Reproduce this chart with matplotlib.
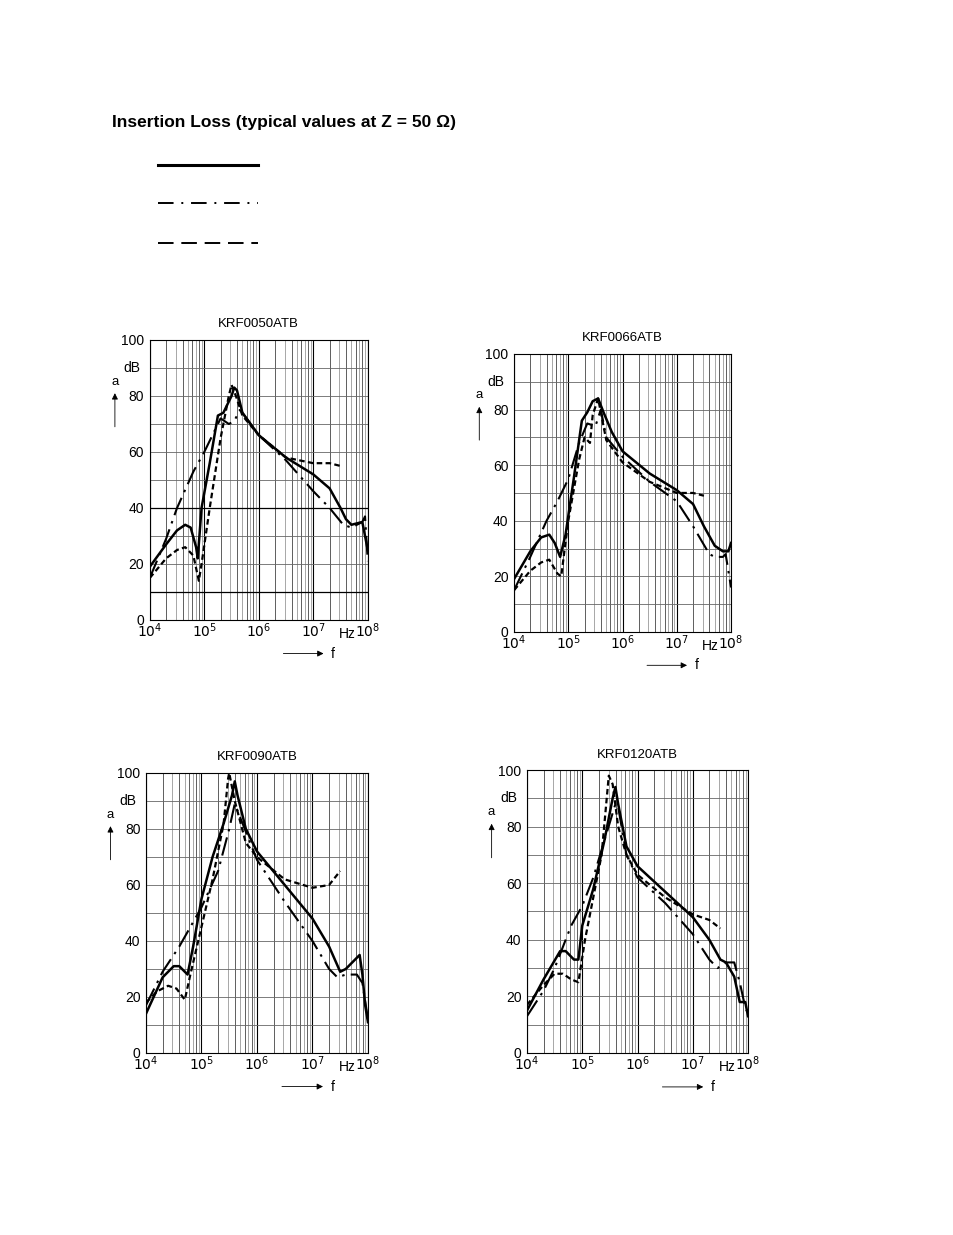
import numpy as np
import matplotlib.pyplot as plt
from matplotlib.lines import Line2D

plt.rcParams['font.family'] = 'Liberation Sans'

# frequencies given as log10(f / Hz), attenuation in dB
titles = ['KRF0050ATB', 'KRF0066ATB', 'KRF0090ATB', 'KRF0120ATB']

solid_x = [
    [4, 4.3, 4.5, 4.65, 4.75, 4.85, 4.88, 4.95, 5.1, 5.25, 5.35, 5.5, 5.55, 5.6, 5.7, 6, 6.5, 7, 7.3, 7.5, 7.6, 7.7, 7.9, 8],
    [4, 4.3, 4.5, 4.65, 4.75, 4.85, 4.95, 5.1, 5.25, 5.35, 5.45, 5.55, 5.65, 5.8, 6, 6.5, 7, 7.3, 7.5, 7.7, 7.85, 7.95, 8],
    [4, 4.3, 4.5, 4.6, 4.7, 4.75, 4.85, 5, 5.2, 5.4, 5.55, 5.6, 5.65, 5.8, 6, 6.5, 7, 7.3, 7.5, 7.6, 7.8, 7.85, 7.9, 7.95, 8],
    [4, 4.3, 4.6, 4.7, 4.85, 4.93, 5.0, 5.2, 5.4, 5.55, 5.6, 5.65, 5.8, 6, 6.5, 7, 7.3, 7.5, 7.6, 7.75, 7.85, 7.95, 8],
]
solid_y = [
    [19, 27, 32, 34, 33, 26, 22, 40, 56, 73, 74, 80, 83, 82, 74, 66, 58, 52, 47, 40, 36, 34, 35, 25],
    [19, 29, 34, 35, 32, 27, 35, 55, 76, 79, 83, 84, 79, 72, 65, 57, 51, 46, 38, 31, 29, 29, 32],
    [14, 27, 31, 31, 29, 28, 38, 55, 70, 82, 92, 97, 92, 80, 72, 60, 48, 38, 29, 30, 34, 35, 28, 17, 11],
    [15, 26, 36, 36, 33, 33, 45, 58, 75, 90, 94, 88, 73, 66, 57, 48, 40, 33, 32, 27, 18, 18, 13],
]

dashdot_x = [
    [4, 4.3, 4.5, 4.8, 5.0, 5.3, 5.45, 5.55, 5.65, 5.7, 6, 6.5, 7, 7.3, 7.55, 7.7, 7.9, 7.95, 8],
    [4, 4.3, 4.6, 4.8, 5, 5.2, 5.35, 5.5, 5.6, 5.7, 6, 6.5, 7, 7.3, 7.6, 7.7, 7.85, 7.9, 8],
    [4, 4.3, 4.6, 4.8, 5, 5.3, 5.5, 5.6, 5.7, 6, 6.5, 7, 7.3, 7.45, 7.6, 7.8, 7.9, 8],
    [4, 4.3, 4.5, 4.8, 5.0, 5.2, 5.4, 5.6, 5.65, 5.8, 6, 6.5, 7, 7.3, 7.45, 7.6, 7.75, 7.85, 7.95, 8],
]
dashdot_y = [
    [15, 29, 40, 53, 60, 72, 70, 71, 75, 74, 66, 57, 46, 40, 34, 33, 35, 37, 21],
    [15, 27, 40, 47, 55, 68, 75, 74, 80, 70, 63, 54, 47, 38, 28, 27, 27, 28, 16],
    [17, 29, 38, 45, 52, 65, 80, 89, 84, 69, 54, 40, 30, 27, 28, 28, 25, 12],
    [13, 22, 30, 45, 52, 62, 75, 88, 87, 70, 62, 53, 42, 33, 30, 32, 32, 25, 16, 14],
]

dotted_x = [
    [4, 4.3, 4.5, 4.65, 4.8, 4.9, 4.95, 5.1, 5.3, 5.45, 5.5, 5.58, 5.7, 6, 6.5, 7, 7.3, 7.5],
    [4, 4.3, 4.5, 4.65, 4.8, 4.87, 5, 5.2, 5.3, 5.4, 5.45, 5.55, 5.7, 6, 6.5, 7, 7.3, 7.5],
    [4, 4.2, 4.4, 4.55, 4.7, 4.8, 5, 5.2, 5.4, 5.48, 5.5, 5.6, 5.8, 6, 6.5, 7, 7.3, 7.5],
    [4, 4.3, 4.5, 4.65, 4.8, 4.93, 5.05, 5.2, 5.35, 5.48, 5.55, 5.65, 5.8, 6, 6.5, 7, 7.3, 7.5],
]
dotted_y = [
    [15, 22, 25, 26, 23, 14, 20, 40, 65, 80, 84, 80, 73, 66, 58, 56, 56, 55],
    [15, 22, 25, 26, 21, 20, 40, 62, 70, 68, 78, 84, 69, 61, 54, 50, 50, 49],
    [18, 22, 24, 23, 19, 28, 45, 62, 82, 98, 100, 90, 75, 70, 62, 59, 60, 65],
    [17, 24, 28, 28, 26, 25, 40, 55, 70, 98, 95, 80, 70, 63, 55, 49, 47, 44],
]

yticks = [0, 20, 40, 60, 80, 100]
xticks = [4, 5, 6, 7, 8]

# [left, bottom, width, height] in figure fraction
boxes = [
    [0.157, 0.498, 0.2285, 0.2267],
    [0.5388, 0.4883, 0.2275, 0.2251],
    [0.153, 0.1474, 0.2327, 0.2267],
    [0.5524, 0.1474, 0.2317, 0.2291],
]

DASHDOT = (0, (9, 3, 1.2, 3))
SHORTDASH = (0, (2.5, 1.5))

fig = plt.figure(figsize=(9.54, 12.35), dpi=100)

fig.text(112 / 954, 1 - 123 / 1235, 'Insertion Loss (typical values at Z = 50 Ω)',
         fontsize=12.5, fontweight='bold', va='center', ha='left')

# legend lines (no text in the original)
leg_styles = [('-', 2.2), ((0, (8, 4, 1, 4)), 1.4), ((0, (8, 4)), 1.4)]
for (ls, lw), yp in zip(leg_styles, [165, 203, 243]):
    fig.add_artist(Line2D([158 / 954, 258 / 954], [1 - yp / 1235] * 2,
                          color='black', linestyle=ls, linewidth=lw))

for i, box in enumerate(boxes):
    ax = fig.add_axes(box)
    ax.set_xlim(4, 8)
    ax.set_ylim(0, 100)
    for d in range(4, 8):
        for k in range(2, 10):
            ax.axvline(d + np.log10(k), color='#999999' if k % 2 else '#444444',
                       linewidth=0.6, zorder=0)
    for d in xticks:
        ax.axvline(d, color='black', linewidth=0.8, zorder=0)
    for v in range(10, 100, 10):
        dark = i == 0 and v in (10, 40)
        ax.axhline(v, color='black' if dark else '#666666',
                   linewidth=0.9 if dark else 0.6, zorder=0)
    ax.plot(solid_x[i], solid_y[i], color='black', linewidth=1.8)
    ax.plot(dashdot_x[i], dashdot_y[i], color='black', linewidth=1.5, linestyle=DASHDOT)
    ax.plot(dotted_x[i], dotted_y[i], color='black', linewidth=1.6, linestyle=SHORTDASH)
    for s in ax.spines.values():
        s.set_linewidth(0.8)
    ax.set_xticks(xticks)
    ax.set_xticklabels(['$10^{%d}$' % d for d in xticks], fontsize=10)
    ax.set_yticks(yticks)
    ax.set_yticklabels([str(v) for v in yticks], fontsize=10)
    ax.tick_params(axis='y', length=0, pad=4)
    ax.tick_params(axis='x', length=0, pad=1)
    ax.set_title(titles[i], fontsize=9.5, pad=9)
    ax.text(-0.045, 0.9, 'dB', transform=ax.transAxes, ha='right', va='center', fontsize=10)
    ax.text(7.62, -2.5, 'Hz', ha='center', va='top', fontsize=10)
    ax.text(-0.16, 0.83, 'a', transform=ax.transAxes, ha='center', va='bottom', fontsize=9.5)
    ax.annotate('', xy=(-0.16, 0.82), xytext=(-0.16, 0.68), xycoords='axes fraction',
                arrowprops=dict(arrowstyle='-|>', color='black', lw=0.6,
                                mutation_scale=9), annotation_clip=False)
    ax.annotate('', xy=(0.81, -0.12), xytext=(0.6, -0.12), xycoords='axes fraction',
                arrowprops=dict(arrowstyle='-|>', color='black', lw=0.6,
                                mutation_scale=9), annotation_clip=False)
    ax.text(0.84, -0.12, 'f', transform=ax.transAxes, ha='center', va='center', fontsize=10)

fig.savefig('out.png', dpi=100)
